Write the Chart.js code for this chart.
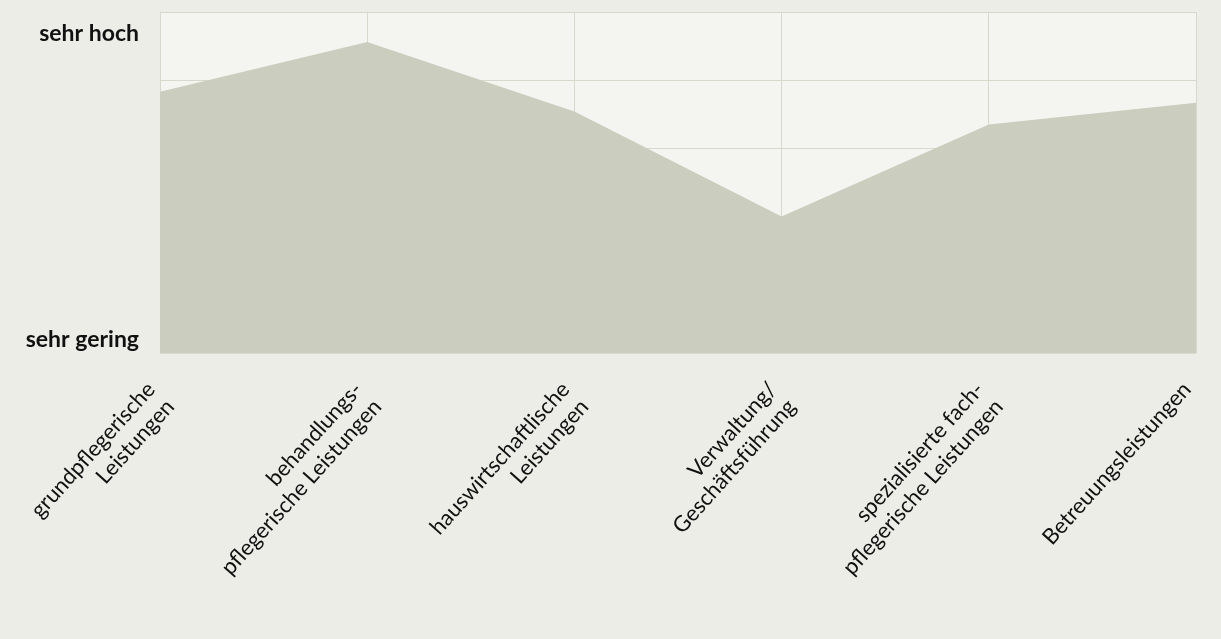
<!DOCTYPE html>
<html lang="de">
<head>
<meta charset="utf-8">
<title>Leistungsbereiche</title>
<script src="https://cdn.jsdelivr.net/npm/chart.js@4/dist/chart.umd.min.js"></script>
<style>
  html, body { margin: 0; padding: 0; background: #ebede6; }
  #wrap { width: 1221px; height: 639px; position: relative; }
</style>
</head>
<body>
<div id="wrap"><canvas id="chart"></canvas></div>
<script>
'use strict';
// categories (multi-line labels as in the original)
const categories = [
  ['grundpflegerische', 'Leistungen'],
  ['behandlungs-', 'pflegerische Leistungen'],
  ['hauswirtschaftlische', 'Leistungen'],
  ['Verwaltung/', 'Geschäftsführung'],
  ['spezialisierte fach-', 'pflegerische Leistungen'],
  ['Betreuungsleistungen']
];
// estimated level on a 0..5 scale
const values = [3.83, 4.56, 3.54, 2.0, 3.35, 3.67];
// y axis: text labels and the scale values where they sit
const yLabels = ['sehr gering', 'sehr hoch'];
const yLabelValues = [0.2, 4.68];
const yMin = 0, yMax = 5;

const BG = '#ebede6';
const PLOT_BG = '#f4f5f0';
const FILL = '#cbcdbe';
const GRID = '#d7d9cd';
const FONT = "Lato, 'Open Sans', sans-serif";

const bgPlugin = {
  id: 'bg',
  beforeDraw(chart) {
    const { ctx, chartArea: a } = chart;
    ctx.save();
    ctx.fillStyle = BG;
    ctx.fillRect(0, 0, chart.width, chart.height);
    ctx.fillStyle = PLOT_BG;
    ctx.fillRect(a.left, a.top, a.right - a.left, a.bottom - a.top);
    ctx.restore();
  }
};

// fixed axis sizes, no extra label padding around the plot
const noPad = s => { s.paddingTop = s.paddingBottom = s.paddingLeft = s.paddingRight = 0; };

new Chart(document.getElementById('chart'), {
  type: 'line',
  data: {
    labels: categories,
    datasets: [{
      data: values,
      fill: 'origin',
      backgroundColor: FILL,
      borderColor: FILL,
      borderWidth: 0,
      pointRadius: 0,
      tension: 0
    }]
  },
  options: {
    responsive: true,
    maintainAspectRatio: false,
    animation: false,
    layout: { autoPadding: false, padding: { top: 12, right: 25, left: 0, bottom: 0 } },
    plugins: { legend: { display: false }, tooltip: { enabled: false } },
    scales: {
      x: {
        offset: false,
        grid: { color: GRID, lineWidth: 1, drawTicks: false },
        border: { display: false },
        ticks: {
          color: '#111',
          font: { family: FONT, size: 22, lineHeight: 1.17 },
          minRotation: 48,
          maxRotation: 48,
          autoSkip: false,
          padding: 24,
          labelOffset: -9
        },
        afterFit: s => { s.height = 286; noPad(s); }
      },
      y: {
        min: yMin,
        max: yMax,
        afterBuildTicks: s => {
          const t = [];
          for (let v = yMin; v <= yMax; v++) t.push({ value: v });
          yLabelValues.forEach(v => t.push({ value: v }));
          s.ticks = t.sort((a, b) => a.value - b.value);
        },
        grid: {
          drawTicks: false,
          lineWidth: 1,
          color: c => Number.isInteger(c.tick.value) ? GRID : 'rgba(0,0,0,0)'
        },
        border: { display: false },
        ticks: {
          color: '#111',
          font: { family: FONT, size: 23, weight: 'bold' },
          padding: 21,
          callback: v => {
            const i = yLabelValues.indexOf(v);
            return i >= 0 ? yLabels[i] : '';
          }
        },
        afterFit: s => { s.width = 160; noPad(s); }
      }
    }
  },
  plugins: [bgPlugin]
});
</script>
</body>
</html>
